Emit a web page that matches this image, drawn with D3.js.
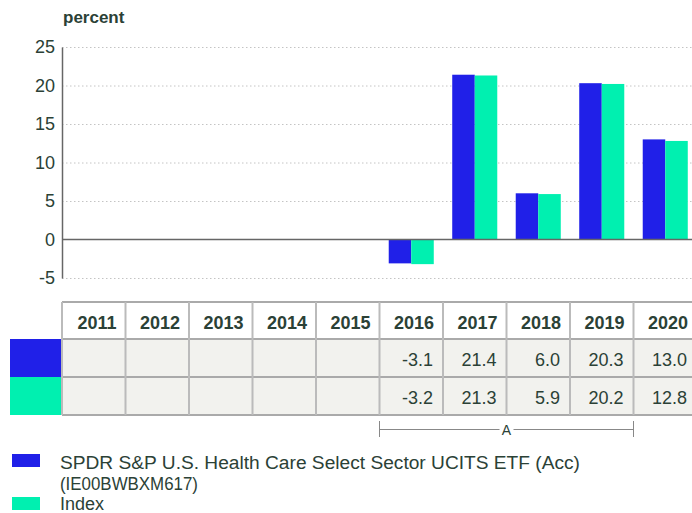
<!DOCTYPE html>
<html>
<head>
<meta charset="utf-8">
<script src="https://cdn.jsdelivr.net/npm/d3@7"></script>
<style>
body { margin: 0; background: #fff; overflow: hidden; }
text { font-family: "Liberation Sans", Arial, sans-serif; fill: #2b4136; }
</style>
</head>
<body>
<div id="chart"></div>
<script>
var years = ["2011", "2012", "2013", "2014", "2015", "2016", "2017", "2018", "2019", "2020"];
var fundValues = [null, null, null, null, null, -3.1, 21.4, 6.0, 20.3, 13.0];
var indexValues = [null, null, null, null, null, -3.2, 21.3, 5.9, 20.2, 12.8];
var yTicks = [-5, 0, 5, 10, 15, 20, 25];
var seriesNames = ["SPDR S&P U.S. Health Care Select Sector UCITS ETF (Acc)", "Index"];
var fundIsin = "(IE00BWBXM617)";
var colors = ["#2020e8", "#00f0b0"];

var w = 692, h = 513;
var left = 62, colW = 63.5;

var svg = d3.select("#chart").append("svg")
    .attr("width", w)
    .attr("height", h);

var x = d3.scaleBand()
    .domain(years)
    .range([left, left + colW * years.length]);

var xSub = d3.scaleBand()
    .domain([0, 1])
    .range([0, x.bandwidth()])
    .paddingOuter(0.41);

var y = d3.scaleLinear()
    .domain([-5, 25])
    .range([278, 47]);

// unit label
svg.append("text")
    .attr("x", 63)
    .attr("y", 23)
    .attr("font-size", 17)
    .attr("font-weight", "bold")
    .text("percent");

// grid lines
svg.append("g").selectAll("line")
    .data(yTicks.filter(function (d) { return d != 0; }))
    .enter().append("line")
    .attr("x1", left)
    .attr("x2", w)
    .attr("y1", function (d) { return y(d) + 0.5; })
    .attr("y2", function (d) { return y(d) + 0.5; })
    .attr("stroke", "#c4c4c4")
    .attr("stroke-dasharray", "1.5,2.5");

var yAxis = d3.axisLeft(y).tickValues(yTicks).tickSize(0).tickPadding(7)
    .tickFormat(function (d) { return String(d); });
var gy = svg.append("g")
    .attr("transform", "translate(" + left + ",0)")
    .call(yAxis);
gy.select(".domain").attr("stroke", "#666").attr("stroke-width", 1.5);
gy.selectAll("text")
    .attr("font-size", 18)
    .attr("fill", "#2b4136")
    .style("font-family", "'Liberation Sans', Arial, sans-serif");

// bars
[fundValues, indexValues].forEach(function (vals, s) {
    svg.append("g").selectAll("rect")
        .data(years.map(function (yr, i) { return { year: yr, v: vals[i] }; })
            .filter(function (d) { return d.v != null; }))
        .enter().append("rect")
        .attr("x", function (d) { return x(d.year) + xSub(s); })
        .attr("width", xSub.bandwidth())
        .attr("y", function (d) { return y(Math.max(0, d.v)); })
        .attr("height", function (d) { return Math.abs(y(d.v) - y(0)); })
        .attr("fill", colors[s]);
});

// zero line
svg.append("line")
    .attr("x1", left)
    .attr("x2", w)
    .attr("y1", y(0))
    .attr("y2", y(0))
    .attr("stroke", "#666")
    .attr("stroke-width", 1.5);

// table
var rowTop = [302, 339, 377], rowH = [37, 38, 38];
var table = svg.append("g");

table.selectAll("rect.cell")
    .data(years.flatMap(function (yr) { return [1, 2].map(function (r) { return { year: yr, r: r }; }); }))
    .enter().append("rect")
    .attr("class", "cell")
    .attr("x", function (d) { return x(d.year); })
    .attr("y", function (d) { return rowTop[d.r]; })
    .attr("width", x.bandwidth())
    .attr("height", function (d) { return rowH[d.r]; })
    .attr("fill", "#f2f2ee");

// swatches in table
colors.forEach(function (c, s) {
    table.append("rect")
        .attr("x", 10)
        .attr("y", rowTop[s + 1])
        .attr("width", left - 10)
        .attr("height", rowH[s + 1])
        .attr("fill", c);
});

// horizontal table lines
[302, 339, 377, 415].forEach(function (yy) {
    table.append("line")
        .attr("x1", left).attr("x2", w)
        .attr("y1", yy).attr("y2", yy)
        .attr("stroke", "#aaa").attr("stroke-width", 2);
});
// vertical table lines
years.forEach(function (yr) {
    table.append("line")
        .attr("x1", x(yr)).attr("x2", x(yr))
        .attr("y1", 302).attr("y2", 415)
        .attr("stroke", "#bbb").attr("stroke-width", 2);
});

table.selectAll("text.head")
    .data(years)
    .enter().append("text")
    .attr("class", "head")
    .attr("x", function (d) { return x(d) + x.bandwidth() - 9; })
    .attr("y", 329)
    .attr("text-anchor", "end")
    .attr("font-size", 18)
    .attr("font-weight", "bold")
    .text(function (d) { return d; });

[fundValues, indexValues].forEach(function (vals, s) {
    table.append("g").selectAll("text")
        .data(years.map(function (yr, i) { return { year: yr, v: vals[i] }; })
            .filter(function (d) { return d.v != null; }))
        .enter().append("text")
        .attr("x", function (d) { return x(d.year) + x.bandwidth() - 10; })
        .attr("y", rowTop[s + 1] + 27)
        .attr("text-anchor", "end")
        .attr("font-size", 18)
        .text(function (d) { return d.v.toFixed(1); });
});

// bracket A over 2016-2019
var bx1 = x("2016"), bx2 = x("2020");
var br = svg.append("g").attr("stroke", "#888").attr("stroke-width", 1);
br.append("line").attr("x1", bx1).attr("x2", bx1).attr("y1", 421).attr("y2", 437);
br.append("line").attr("x1", bx2).attr("x2", bx2).attr("y1", 421).attr("y2", 437);
br.append("line").attr("x1", bx1).attr("x2", (bx1 + bx2) / 2 - 7).attr("y1", 429.5).attr("y2", 429.5);
br.append("line").attr("x1", (bx1 + bx2) / 2 + 7).attr("x2", bx2).attr("y1", 429.5).attr("y2", 429.5);
svg.append("text")
    .attr("x", (bx1 + bx2) / 2)
    .attr("y", 435)
    .attr("text-anchor", "middle")
    .attr("font-size", 14)
    .text("A");

// legend
var legend = svg.append("g");
legend.append("rect").attr("x", 12).attr("y", 454).attr("width", 28).attr("height", 13).attr("fill", colors[0]);
legend.append("text").attr("x", 60).attr("y", 469).attr("font-size", 18)
    .attr("textLength", 520).attr("lengthAdjust", "spacingAndGlyphs")
    .text(seriesNames[0]);
legend.append("text").attr("x", 60).attr("y", 490).attr("font-size", 18)
    .attr("textLength", 138).attr("lengthAdjust", "spacingAndGlyphs")
    .text(fundIsin);
legend.append("rect").attr("x", 12).attr("y", 497).attr("width", 28).attr("height", 13).attr("fill", colors[1]);
legend.append("text").attr("x", 60).attr("y", 510).attr("font-size", 18)
    .attr("textLength", 44).attr("lengthAdjust", "spacingAndGlyphs")
    .text(seriesNames[1]);
</script>
</body>
</html>
